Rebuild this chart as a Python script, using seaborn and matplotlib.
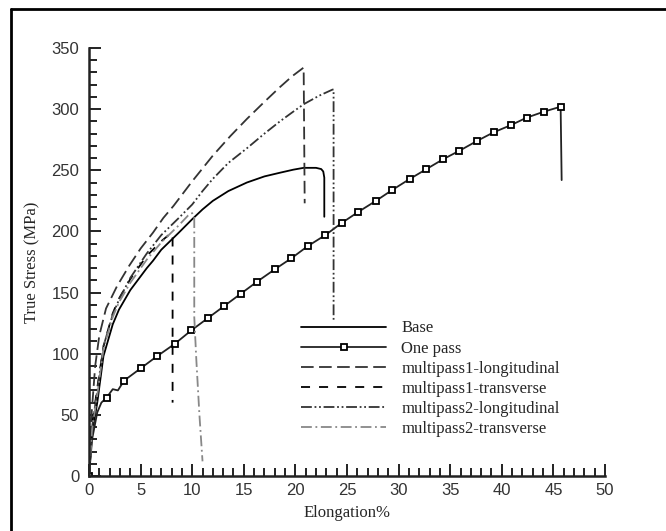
import numpy as np
import pandas as pd
import matplotlib.pyplot as plt
import seaborn as sns
from matplotlib.lines import Line2D
from matplotlib.ticker import MultipleLocator

# ============================================
# DATA
# ============================================

base_x = [0, 0.3, 0.8, 1.4, 2.3, 2.9, 4.0, 5.6, 6.2, 7.0, 8.7, 10.0, 11.0, 12.0, 13.5, 15.3,
          17.0, 18.5, 19.8, 20.8, 22.0, 22.5, 22.7, 22.8, 22.8]
base_y = [0, 35, 60, 98, 124, 136, 152, 170, 176, 185, 199, 210, 218, 225, 233, 240,
          245, 248, 250.5, 252, 252, 251, 249, 244, 212]

onepass_x = [0, 0.3, 0.8, 1.2, 1.7, 2.3, 2.8, 3.4, 5.0, 6.6, 8.3, 9.9, 11.5, 13.1, 14.7, 16.3, 18.0,
             19.6, 21.2, 22.9, 24.5, 26.1, 27.8, 29.4, 31.1, 32.7, 34.3, 35.9, 37.6, 39.2, 40.9,
             42.4, 44.1, 45.7, 45.8]
onepass_y = [0, 30, 52, 60, 64, 71, 70, 78, 88, 98, 108, 119, 129, 139, 149, 159, 169,
             178, 188, 197, 207, 216, 225, 234, 243, 251, 259, 266, 274, 281, 287,
             293, 298, 302, 242]
onepass_marked = [0, 4] + list(range(7, 34))

ml1_x = [0, 0.2, 0.6, 1.0, 1.65, 2.7, 3.9, 5.0, 6.2, 7.2, 8.2, 10.0, 12.0, 13.7, 15.3, 17.0, 18.5, 19.7, 20.8, 20.9]
ml1_y = [0, 45, 90, 115, 137, 155, 172, 186, 199, 211, 221, 241, 262, 278, 292, 306, 318, 327, 334, 223]

mt1_x = [0, 0.3, 0.8, 1.4, 2.3, 2.9, 4.0, 5.6, 7.0, 8.0, 8.1, 8.1]
mt1_y = [0, 42, 72, 106, 133, 145, 161, 180, 192, 199, 196, 60]

ml2_x = [0, 0.3, 0.8, 1.4, 2.3, 2.9, 4.0, 5.6, 7.0, 8.7, 10.0, 11.0, 12.0, 13.5, 15.3, 17.0,
         18.5, 19.8, 20.8, 22.3, 23.6, 23.7, 23.7]
ml2_y = [0, 40, 70, 106, 132, 144, 162, 182, 197, 211, 222, 233, 243, 256, 268, 280,
         290, 298, 304, 311, 316, 316, 120]

mt2_x = [0, 0.3, 0.8, 1.4, 2.3, 2.9, 4.0, 5.6, 7.0, 8.7, 9.6, 10.0, 10.2, 10.2, 10.4, 10.7, 11.0]
mt2_y = [0, 38, 66, 104, 130, 142, 158, 177, 191, 205, 213, 215, 211, 130, 95, 50, 12]

labels = ['Base', 'One pass', 'multipass1-longitudinal', 'multipass1-transverse',
          'multipass2-longitudinal', 'multipass2-transverse']

# ============================================
# STYLE
# ============================================

sns.set_style('ticks')
plt.rcParams['font.family'] = ['Liberation Sans', 'DejaVu Sans']
serif = ['Liberation Serif', 'DejaVu Serif']

fig = plt.figure(figsize=(6.66, 5.31), dpi=100)
ax = fig.add_axes([89 / 666, 1 - 476 / 531, (605 - 89) / 666, (476 - 48) / 531])

common = dict(estimator=None, sort=False, ax=ax, legend=False)
lw = 1.3

sns.lineplot(x=base_x, y=base_y, color='black', linewidth=lw, **common)
sns.lineplot(x=onepass_x, y=onepass_y, color='#222222', linewidth=lw, marker='s',
             markersize=5, mfc='white', mec='black', mew=1.3,
             markevery=onepass_marked, **common)
sns.lineplot(x=ml1_x, y=ml1_y, color='#333333', linewidth=lw,
             linestyle=(0, (7, 3)), **common)
sns.lineplot(x=mt1_x, y=mt1_y, color='black', linewidth=lw,
             linestyle=(0, (5, 5)), **common)
sns.lineplot(x=ml2_x, y=ml2_y, color='#333333', linewidth=lw,
             linestyle=(0, (6, 1.5, 1, 1.5, 1, 1.5)), **common)
sns.lineplot(x=mt2_x, y=mt2_y, color='#888888', linewidth=lw,
             linestyle=(0, (6, 2, 1, 2)), **common)

ax.set_xlim(0, 50)
ax.set_ylim(0, 350)
ax.xaxis.set_major_locator(MultipleLocator(5))
ax.xaxis.set_minor_locator(MultipleLocator(1))
ax.yaxis.set_major_locator(MultipleLocator(50))
ax.yaxis.set_minor_locator(MultipleLocator(10))
ax.tick_params(which='both', direction='in', colors='#222222', width=1.4,
               labelsize=12, labelcolor='#333333', bottom=True, left=True)
ax.tick_params(which='major', length=8.5)
ax.tick_params(which='minor', length=5.5)
ax.tick_params(axis='y', pad=7)
ax.tick_params(axis='x', pad=5)
for side in ['top', 'right']:
    ax.spines[side].set_visible(False)
for side in ['left', 'bottom']:
    ax.spines[side].set_linewidth(1.8)
    ax.spines[side].set_color('#222222')

ax.set_xlabel('Elongation%', family=serif, fontsize=12, labelpad=5)
ax.set_ylabel('True Stress (MPa)', family=serif, fontsize=12, labelpad=8)

# legend
handles = ax.lines[:6]
leg = ax.legend(handles, labels, loc='upper left', bbox_to_anchor=(293 / 666, 1 - 312 / 531),
                bbox_transform=fig.transFigure, frameon=True, borderpad=0,
                handlelength=5.1, handletextpad=0.9, labelspacing=0.25,
                numpoints=1, prop={'family': serif, 'size': 12})
leg.get_frame().set_linewidth(0)
leg.get_frame().set_facecolor('white')
leg.get_frame().set_alpha(1)

# page frame, only top and left edges visible in the crop
fig.add_artist(Line2D([11 / 666, 1], [1 - 9 / 531, 1 - 9 / 531], transform=fig.transFigure,
                      color='black', linewidth=2))
fig.add_artist(Line2D([11 / 666, 11 / 666], [0, 1 - 9 / 531], transform=fig.transFigure,
                      color='black', linewidth=2))

fig.savefig('out.png', dpi=100)
